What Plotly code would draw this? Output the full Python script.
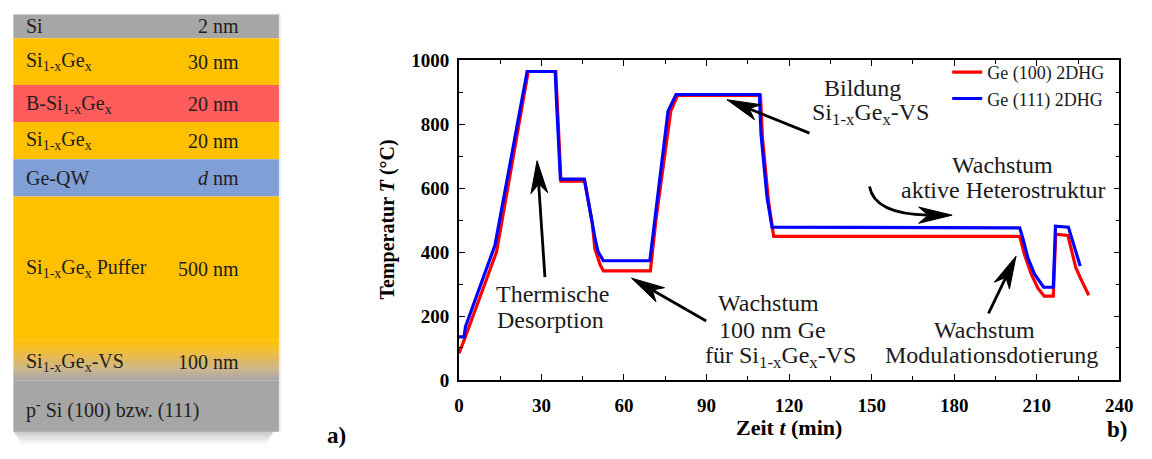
import plotly.graph_objects as go

W, H = 1152, 459
SERIF = "Liberation Serif, Times New Roman, Times, serif"

# ---------------- temperature profiles (time in min, temperature in °C) -------------
t_ge100 = [0, 1.8, 13.7, 25.2, 35.2, 37.1, 45.7, 47.3, 48.5, 49.4, 51.3, 52.5, 69.6,
           71.6, 77.0, 79.5, 109.6, 110.3, 112.5, 114.4, 203.8, 205.6, 208.0, 210.4,
           212.7, 216.0, 216.9, 221.3, 224.2, 226.0, 228.9]
T_ge100 = [83, 122, 401, 965, 965, 622, 622, 545, 490, 411, 361, 341, 341,
           500, 841, 890, 890, 760, 560, 449, 449, 391, 331, 287,
           262, 262, 456, 452, 351, 316, 265]

t_ge111 = [0, 1.9, 2.4, 13.1, 24.8, 35.0, 35.6, 36.9, 45.6, 47.2, 48.3, 49.5, 50.6,
           52.5, 69.4, 76.0, 78.9, 109.2, 109.8, 112.0, 113.8, 203.8, 205.0, 206.8,
           209.2, 212.5, 216.0, 216.8, 221.5, 224.2, 225.8]
T_ge111 = [135, 135, 167, 421, 965, 965, 850, 628, 628, 550, 500, 441, 401,
           373, 373, 841, 893, 893, 769, 570, 478, 476, 441, 381,
           331, 290, 290, 481, 478, 401, 356]

series_names = ["Ge (100) 2DHG", "Ge (111) 2DHG"]

x_ticks = [0, 30, 60, 90, 120, 150, 180, 210, 240]
y_ticks = [0, 200, 400, 600, 800, 1000]

# ---------------- layer stack -------------------------------------------------------
layer_names = ["Si", "Si<sub>1-x</sub>Ge<sub>x</sub>", "B-Si<sub>1-x</sub>Ge<sub>x</sub>",
               "Si<sub>1-x</sub>Ge<sub>x</sub>", "Ge-QW",
               "Si<sub>1-x</sub>Ge<sub>x</sub> Puffer", "Si<sub>1-x</sub>Ge<sub>x</sub>-VS",
               "p<sup>-</sup> Si (100) bzw. (111)"]
layer_thickness = ["2 nm", "30 nm", "20 nm", "20 nm", "<i>d</i> nm", "500 nm", "100 nm", ""]

# drawing geometry of the stack (pixels)
STACK_X0, STACK_X1 = 8.5, 278.5
band_tops = [5, 29.5, 78.5, 117.5, 156.5, 195.5, 345, 388]
band_bottom = 442
band_colors = ["#a6a6a6", "#ffc000", "#ff5c5c", "#ffc000", "#7f9fd6", "#ffc000", None, "#a6a6a6"]
label_y = [17, 54, 99, 137, 176, 271, 369, 419]


def px(x):
    return x / W


def py(y):
    return 1 - y / H


fig = go.Figure()

line_colors = ["#ff0000", "#0000ff"]
for name, xs, ys, col in zip(series_names, [t_ge100, t_ge111], [T_ge100, T_ge111], line_colors):
    fig.add_trace(go.Scatter(x=xs, y=ys, mode="lines", name=name,
                             line=dict(color=col, width=3.2)))

shapes = []
annotations = []

# --- stack bands
for i, top in enumerate(band_tops):
    bottom = band_tops[i + 1] if i + 1 < len(band_tops) else band_bottom
    col = band_colors[i]
    if col is None:
        # graded virtual substrate: vertical blend from buffer orange to substrate grey
        fig.add_trace(go.Scatter(
            x=[STACK_X0, STACK_X1, STACK_X1, STACK_X0, STACK_X0],
            y=[top, top, bottom, bottom, top],
            xaxis="x2", yaxis="y2", mode="lines", line=dict(width=0),
            fill="toself", showlegend=False, hoverinfo="skip",
            fillgradient=dict(type="vertical",
                              colorscale=[[0, "#a6a6a6"], [0.25, "#c9b590"],
                                          [0.7, "#f2bd3a"], [1, "#ffc000"]])))
    else:
        shapes.append(dict(type="rect", xref="paper", yref="paper",
                           x0=px(STACK_X0), x1=px(STACK_X1), y0=py(top), y1=py(bottom),
                           fillcolor=col, line=dict(width=0), layer="below"))

# soft drop shadow under the stack
for k in range(15):
    a = 0.34 * (1 - k / 15) ** 1.4
    shapes.append(dict(type="rect", xref="paper", yref="paper",
                       x0=px(STACK_X0 + 1 + k * 0.6), x1=px(STACK_X1 - 6 - k * 0.6),
                       y0=py(band_bottom + k), y1=py(band_bottom + k + 1),
                       fillcolor="rgba(90,90,90,%.3f)" % a, line=dict(width=0), layer="below"))
shapes.append(dict(type="line", xref="paper", yref="paper",
                   x0=px(STACK_X0), x1=px(STACK_X1 + 1), y0=py(4.5), y1=py(4.5),
                   line=dict(color="rgba(200,200,200,0.8)", width=1), layer="below"))
shapes.append(dict(type="line", xref="paper", yref="paper",
                   x0=px(STACK_X1 + 1), x1=px(STACK_X1 + 1), y0=py(4.5), y1=py(band_bottom),
                   line=dict(color="rgba(215,215,215,0.8)", width=1.2), layer="below"))

for name, thick, yc in zip(layer_names, layer_thickness, label_y):
    annotations.append(dict(xref="paper", yref="paper", x=px(19), y=py(yc),
                            xanchor="left", yanchor="middle", text=name, showarrow=False,
                            font=dict(family=SERIF, size=20, color="#1e1e1e")))
    if thick:
        annotations.append(dict(xref="paper", yref="paper", x=px(240), y=py(yc),
                                xanchor="right", yanchor="middle", text=thick, showarrow=False,
                                font=dict(family=SERIF, size=20, color="#1e1e1e")))

# panel letters
annotations.append(dict(xref="paper", yref="paper", x=px(337), y=py(446), text="<b>a)</b>",
                        showarrow=False, xanchor="center", yanchor="middle",
                        font=dict(family=SERIF, size=23, color="black")))
annotations.append(dict(xref="paper", yref="paper", x=px(1131), y=py(440), text="<b>b)</b>",
                        showarrow=False, xanchor="center", yanchor="middle",
                        font=dict(family=SERIF, size=23, color="black")))

# axis titles
annotations.append(dict(xref="paper", yref="paper", x=px(797), y=py(438),
                        text="<b>Zeit <i>t</i> (min)</b>", showarrow=False,
                        xanchor="center", yanchor="middle",
                        font=dict(family=SERIF, size=22, color="black")))
annotations.append(dict(xref="paper", yref="paper", x=px(389), y=py(220),
                        text="<b>Temperatur <i>T</i> (°C)</b>", showarrow=False, textangle=-90,
                        xanchor="center", yanchor="middle",
                        font=dict(family=SERIF, size=20, color="black")))


# --- labels inside panel b
def label(text, xc, yc, size=24):
    annotations.append(dict(xref="paper", yref="paper", x=px(xc), y=py(yc), text=text,
                            showarrow=False, xanchor="center", yanchor="middle",
                            font=dict(family=SERIF, size=size, color="#1a1a1a")))


SIGE = "Si<sub>1-x</sub>Ge<sub>x</sub>"
label("Thermische", 557, 298)
label("Desorption", 555, 325)
label("Wachstum", 776, 307)
label("100 nm Ge", 780, 335)
label("für " + SIGE + "-VS", 788, 364)
label("Bildung", 872, 82)
label(SIGE + "-VS", 880, 109)
label("Wachstum", 1014, 162)
label("aktive Heterostruktur", 1015, 189)
label("Wachstum", 996, 335)
label("Modulationsdotierung", 1003, 362)


def arrow_head(tip, tail, length=34, width=17, notch=0.72):
    dx, dy = tip[0] - tail[0], tip[1] - tail[1]
    d = (dx * dx + dy * dy) ** 0.5
    ux, uy = dx / d, dy / d
    nx, ny = -uy, ux
    bx, by = tip[0] - length * ux, tip[1] - length * uy
    p1 = (bx + nx * width / 2, by + ny * width / 2)
    p2 = (tip[0] - notch * length * ux, tip[1] - notch * length * uy)
    p3 = (bx - nx * width / 2, by - ny * width / 2)
    pts = [tip, p1, p2, p3]
    path = "M " + " L ".join("%.5f %.5f" % (px(x), py(y)) for x, y in pts) + " Z"
    shapes.append(dict(type="path", xref="paper", yref="paper", path=path,
                       fillcolor="black", line=dict(color="black", width=1)))
    return p2


def straight_arrow(tail, tip):
    end = arrow_head(tip, tail)
    shapes.append(dict(type="line", xref="paper", yref="paper",
                       x0=px(tail[0]), y0=py(tail[1]), x1=px(end[0]), y1=py(end[1]),
                       line=dict(color="black", width=2.8)))


straight_arrow((549, 280), (541, 158))
straight_arrow((713, 326), (637, 281))
straight_arrow((818, 129), (734, 94))
straight_arrow((1000, 318), (1028, 258))

# curved arrow towards the plateau of the active structure
end = arrow_head((963, 215), (930, 215))
shapes.append(dict(type="path", xref="paper", yref="paper",
                   path="M %.5f %.5f Q %.5f %.5f %.5f %.5f" % (px(879), py(185), px(884), py(214),
                                                              px(end[0]), py(end[1])),
                   line=dict(color="black", width=2.8)))

axis_common = dict(showgrid=False, zeroline=False, showline=True, linecolor="black",
                   linewidth=1.5, mirror="allticks", ticks="inside", ticklen=6,
                   tickwidth=1.3, tickcolor="black",
                   tickfont=dict(family=SERIF, size=19, color="black", weight="bold"))

fig.update_layout(
    width=W, height=H,
    margin=dict(l=0, r=0, t=0, b=0),
    font=dict(family=SERIF, size=18, color="#1a1a1a"),
    paper_bgcolor="white", plot_bgcolor="rgba(0,0,0,0)",
    xaxis=dict(domain=[px(461.5), px(1133)], range=[0, 240], tickvals=x_ticks,
               ticklabelstandoff=7,
               minor=dict(dtick=15, ticks="inside", ticklen=4, tickcolor="black", tickwidth=1.2),
               **axis_common),
    yaxis=dict(domain=[py(387.7), py(52.7)], range=[0, 1000], tickvals=y_ticks,
               ticklabelstandoff=4,
               minor=dict(dtick=100, ticks="inside", ticklen=4, tickcolor="black", tickwidth=1.2),
               **axis_common),
    # pixel-space helper axes spanning the whole figure (used for the graded layer)
    xaxis2=dict(domain=[0, 1], range=[0, W], visible=False, fixedrange=True),
    yaxis2=dict(domain=[0, 1], range=[H, 0], visible=False, fixedrange=True, anchor="x2"),
    legend=dict(x=px(958), y=py(46), xanchor="left", yanchor="top",
                bgcolor="rgba(0,0,0,0)", borderwidth=0,
                font=dict(family=SERIF, size=18, color="#1a1a1a"), tracegroupgap=0),
    shapes=shapes,
    annotations=annotations,
    showlegend=True,
)
fig.data[2].update(xaxis="x2", yaxis="y2")

fig.write_html("out.html")
